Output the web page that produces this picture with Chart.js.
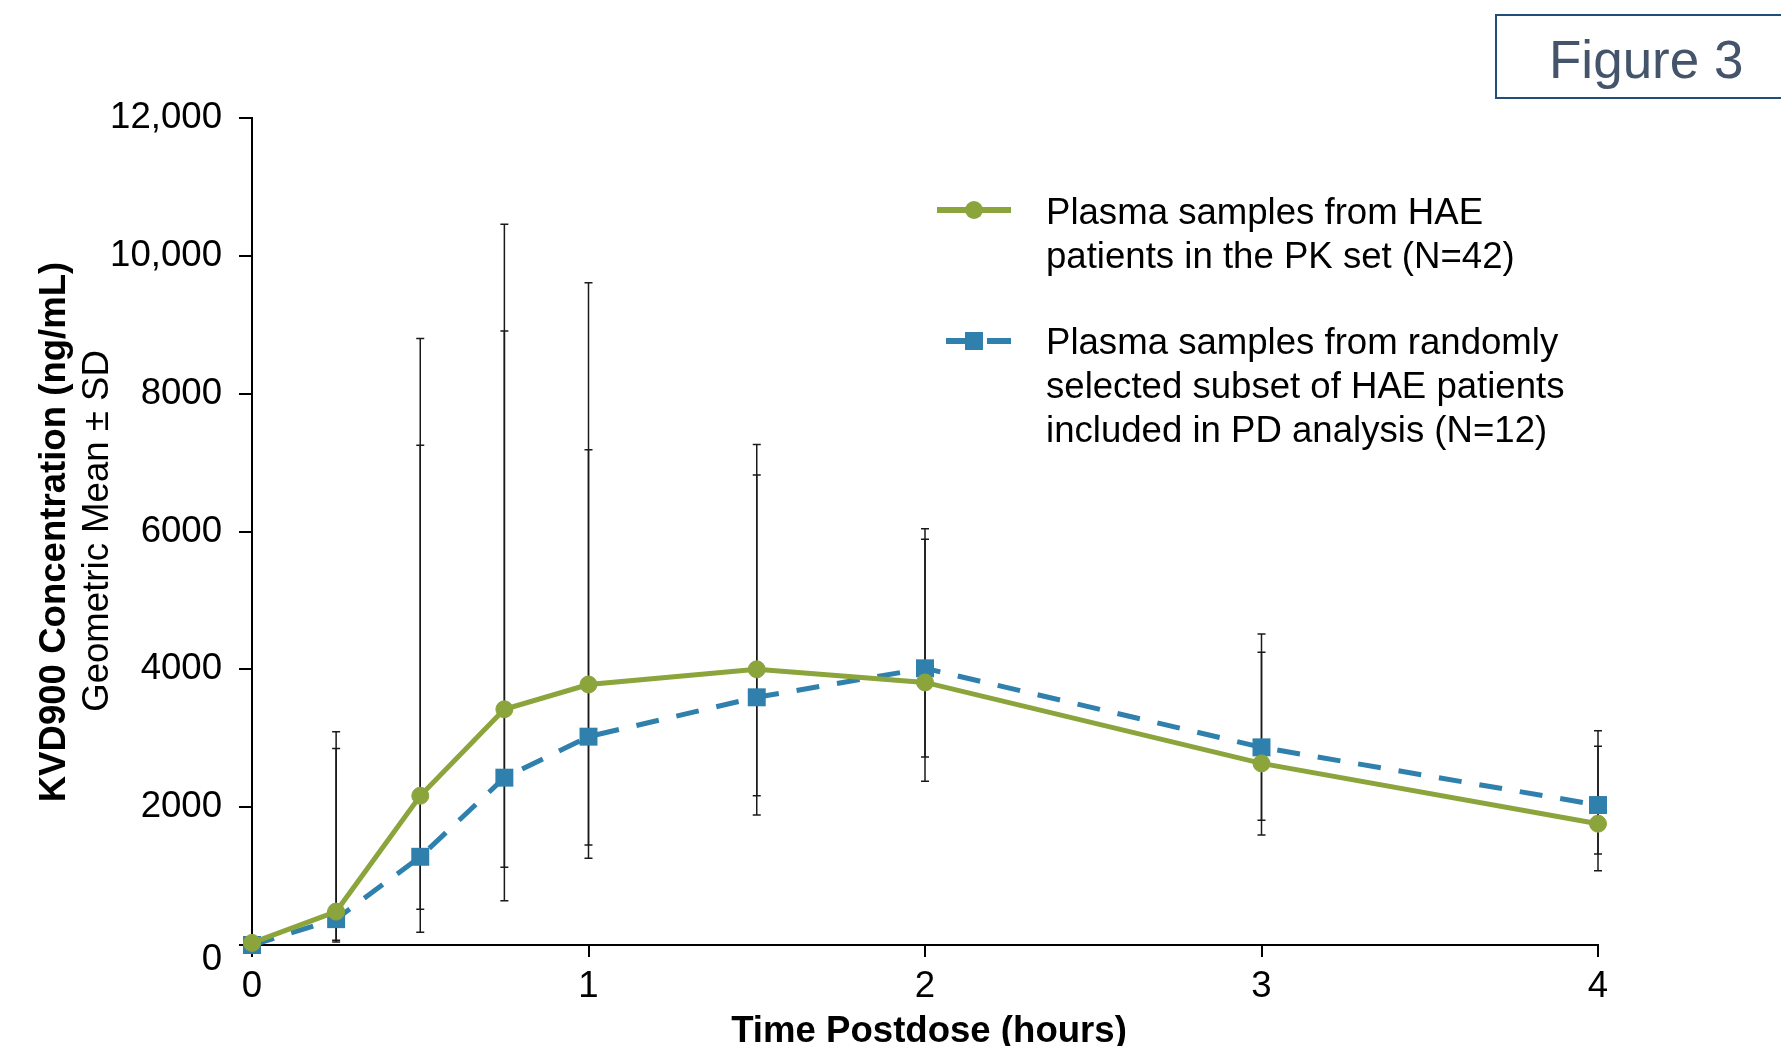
<!DOCTYPE html>
<html><head><meta charset="utf-8">
<script src="https://cdn.jsdelivr.net/npm/chart.js@4/dist/chart.umd.min.js"></script>
<style>
html,body{margin:0;padding:0;background:#fff;overflow:hidden}
#wrap{position:relative;width:1781px;height:1046px}
#c{position:absolute;left:0;top:0}
#fig{position:absolute;left:1495px;top:14px;width:320px;height:81px;border:2px solid #1F4E79}
#fig span{position:absolute;left:52px;top:17px;font:53px "Liberation Sans",Arial,sans-serif;line-height:53px;color:#44546A;white-space:nowrap}
</style></head>
<body>
<div id="wrap">
<canvas id="c" width="1781" height="1046"></canvas>
<div id="fig"><span>Figure 3</span></div>
</div>
<script>
// ---- data ----
const times = [0, 0.25, 0.5, 0.75, 1, 1.5, 2, 3, 4];
const pkMean = [30, 485, 2165, 3420, 3780, 4000, 3810, 2635, 1760];
const pkLow  = [null, 70, 518, 1127, 1451, 2166, 2375, 1596, 1078];
const pkHigh = [null, 3095, 8800, 10457, 9610, 7264, 6041, 4247, 2883];
const pdMean = [0, 375, 1280, 2428, 3023, 3594, 4015, 2868, 2031];
const pdLow  = [null, 45, 184, 643, 1258, 1886, 2728, 1809, 1320];
const pdHigh = [null, 2853, 7252, 8909, 7187, 6820, 5886, 4512, 3110];
const yTickLabels = ['0', '2000', '4000', '6000', '8000', '10,000', '12,000'];
const xTickLabels = ['0', '1', '2', '3', '4'];
const pkLegend = ['Plasma samples from HAE', 'patients in the PK set (N=42)'];
const pdLegend = ['Plasma samples from randomly', 'selected subset of HAE patients', 'included in PD analysis (N=12)'];
const yTitle1 = 'KVD900 Concentration (ng/mL)';
const yTitle2 = 'Geometric Mean \u00B1 SD';
const xTitle = 'Time Postdose (hours)';

const GREEN = '#8CA43C';
const BLUE = '#2F80AC';
const FONT = '"Liberation Sans", Arial, sans-serif';
const FS = 36.6;

const errorSets = [[pkLow, pkHigh], [pdLow, pdHigh]];

const errorBars = {
  id: 'errorBars',
  beforeDatasetsDraw(chart) {
    const {ctx, scales: {x, y}} = chart;
    ctx.save();
    ctx.strokeStyle = '#1a1a1a';
    ctx.lineWidth = 1.5;
    errorSets.forEach(([lo, hi]) => {
      times.forEach((t, i) => {
        if (lo[i] == null) return;
        const px = x.getPixelForValue(t);
        const y1 = y.getPixelForValue(lo[i]);
        const y2 = y.getPixelForValue(hi[i]);
        ctx.beginPath();
        ctx.moveTo(px, y1); ctx.lineTo(px, y2);
        ctx.moveTo(px - 4, y1); ctx.lineTo(px + 4, y1);
        ctx.moveTo(px - 4, y2); ctx.lineTo(px + 4, y2);
        ctx.stroke();
      });
    });
    ctx.restore();
  }
};

const textsAndLegend = {
  id: 'textsAndLegend',
  afterDraw(chart) {
    const ctx = chart.ctx;
    const ds = chart.data.datasets;
    const ys = chart.scales.y;
    ctx.save();
    ctx.fillStyle = '#000';
    // y "0" tick label sits a little below its tick in the original
    ctx.font = FS + 'px ' + FONT;
    ctx.textAlign = 'right';
    ctx.textBaseline = 'middle';
    ctx.fillText(yTickLabels[0], ys.right - 13 - 17, ys.getPixelForValue(0) + 15);

    ctx.textAlign = 'center';
    // y titles
    ctx.font = 'bold ' + FS + 'px ' + FONT;
    ctx.save(); ctx.translate(55, 532); ctx.rotate(-Math.PI / 2); ctx.fillText(yTitle1, 0, 0); ctx.restore();
    ctx.font = FS + 'px ' + FONT;
    ctx.save(); ctx.translate(98, 531); ctx.rotate(-Math.PI / 2); ctx.fillText(yTitle2, 0, 0); ctx.restore();
    // x title
    ctx.font = 'bold ' + FS + 'px ' + FONT;
    ctx.fillText(xTitle, 929, 1032);

    // legend
    ctx.textAlign = 'left';
    ctx.font = FS + 'px ' + FONT;
    ctx.strokeStyle = ds[0].borderColor;
    ctx.lineWidth = 6;
    ctx.beginPath(); ctx.moveTo(937, 210); ctx.lineTo(1011, 210); ctx.stroke();
    ctx.fillStyle = ds[0].pointBackgroundColor;
    ctx.beginPath(); ctx.arc(974, 210, 9, 0, Math.PI * 2); ctx.fill();
    ctx.fillStyle = '#000';
    pkLegend.forEach((s, i) => ctx.fillText(s, 1046, 213.5 + i * 44.3));
    ctx.strokeStyle = ds[1].borderColor;
    ctx.beginPath(); ctx.moveTo(946, 341); ctx.lineTo(966, 341); ctx.moveTo(987, 341); ctx.lineTo(1011, 341); ctx.stroke();
    ctx.fillStyle = ds[1].pointBackgroundColor;
    ctx.fillRect(965, 332, 18, 18);
    ctx.fillStyle = '#000';
    pdLegend.forEach((s, i) => ctx.fillText(s, 1046, 343.5 + i * 44.3));
    ctx.restore();
  }
};

new Chart(document.getElementById('c'), {
  type: 'line',
  data: {
    datasets: [
      {
        label: pkLegend.join(' '),
        data: times.map((t, i) => ({x: t, y: pkMean[i]})),
        borderColor: GREEN, backgroundColor: GREEN,
        borderWidth: 5, tension: 0, clip: false,
        pointStyle: 'circle', pointRadius: 8.5, pointBorderWidth: 1,
        pointBackgroundColor: GREEN, pointBorderColor: GREEN
      },
      {
        label: pdLegend.join(' '),
        data: times.map((t, i) => ({x: t, y: pdMean[i]})),
        borderColor: BLUE, backgroundColor: BLUE,
        borderWidth: 5, borderDash: [23, 18], tension: 0, clip: false,
        pointStyle: 'rect', pointRadius: 12.7, pointBorderWidth: 0,
        pointBackgroundColor: BLUE, pointBorderColor: BLUE
      }
    ]
  },
  options: {
    responsive: false,
    animation: false,
    devicePixelRatio: 1,
    layout: {padding: {left: 0, top: 118, right: 183, bottom: 0}},
    plugins: {legend: {display: false}, tooltip: {enabled: false}},
    scales: {
      x: {
        type: 'linear', min: 0, max: 4,
        afterFit(s) { s.height = 101; s.paddingLeft = 0; s.paddingRight = 0; },
        afterBuildTicks(s) { s.ticks = xTickLabels.map((_, i) => ({value: i})); },
        ticks: {
          callback: (v, i) => xTickLabels[i],
          font: {family: FONT, size: FS}, color: '#000', padding: 8, maxRotation: 0, autoSkip: false
        },
        grid: {display: true, drawOnChartArea: false, drawTicks: true, tickLength: 12, color: '#000', lineWidth: 2},
        border: {display: true, color: '#000', width: 2}
      },
      y: {
        type: 'linear', min: 0, max: 12000,
        afterFit(s) { s.width = 252; s.paddingTop = 0; s.paddingBottom = 0; },
        afterBuildTicks(s) { s.ticks = yTickLabels.map((_, i) => ({value: i * 2000})); },
        ticks: {
          callback: (v, i) => yTickLabels[i],
          font: {family: FONT, size: FS},
          color: (c) => c.index === 0 ? 'rgba(0,0,0,0)' : '#000',
          padding: 17, autoSkip: false
        },
        grid: {display: true, drawOnChartArea: false, drawTicks: true, tickLength: 13, color: '#000', lineWidth: 2},
        border: {display: true, color: '#000', width: 2}
      }
    }
  },
  plugins: [errorBars, textsAndLegend]
});
</script>
</body></html>
